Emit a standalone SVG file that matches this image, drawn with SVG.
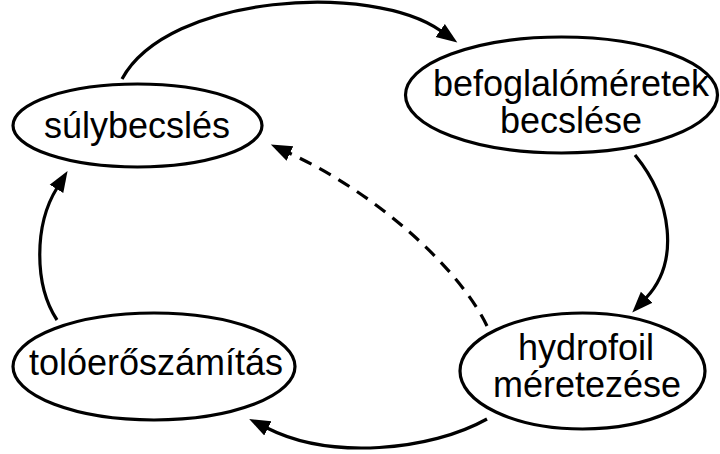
<svg xmlns="http://www.w3.org/2000/svg" width="720" height="454" viewBox="0 0 720 454">
  <style>
    .node ellipse { fill: #ffffff; stroke: #000000; stroke-width: 3.2; }
    .node text { font-family: "Liberation Sans", Arial, sans-serif; font-size: 36px; fill: #000000; text-anchor: middle; }
    .edge { fill: none; stroke: #000000; stroke-width: 3.2; marker-end: url(#arrow); }
    .dashed { stroke-dasharray: 13 9; }
  </style>
  <defs>
    <marker id="arrow" markerUnits="userSpaceOnUse" markerWidth="24" markerHeight="20" refX="1" refY="10" orient="auto">
      <path d="M0,2 L21,10 L0,18 Z" fill="#000000"/>
    </marker>
  </defs>
  <rect width="720" height="454" fill="#ffffff"/>

  <!-- process loop connectors -->
  <g id="connectors">
    <path class="edge" d="M122,79 C168,-6 372,-18 441,31"/>
    <path class="edge" d="M635,155 C672,200 680,262 646,298"/>
    <path class="edge" d="M487,419 C430,451 330,460 267,428"/>
    <path class="edge" d="M57,320 C34,285 34,225 57,188"/>
    <path class="edge dashed" d="M487,326 C460,270 380,195 289,153"/>
  </g>

  <g id="sulybecsles" class="node">
    <ellipse cx="137.5" cy="125.5" rx="124.5" ry="41.5"/>
    <text x="137" y="138">súlybecslés</text>
  </g>

  <g id="befoglalomeretek" class="node">
    <ellipse cx="561.5" cy="95" rx="156" ry="58"/>
    <text x="571" y="96">befoglalóméretek</text>
    <text x="571" y="133">becslése</text>
  </g>

  <g id="hydrofoil" class="node">
    <ellipse cx="582.5" cy="371" rx="122.5" ry="58"/>
    <text x="586" y="360">hydrofoil</text>
    <text x="587" y="397">méretezése</text>
  </g>

  <g id="toloeroszamitas" class="node">
    <ellipse cx="154" cy="366.5" rx="141" ry="53.5"/>
    <text x="156" y="375">tolóerőszámítás</text>
  </g>
</svg>
